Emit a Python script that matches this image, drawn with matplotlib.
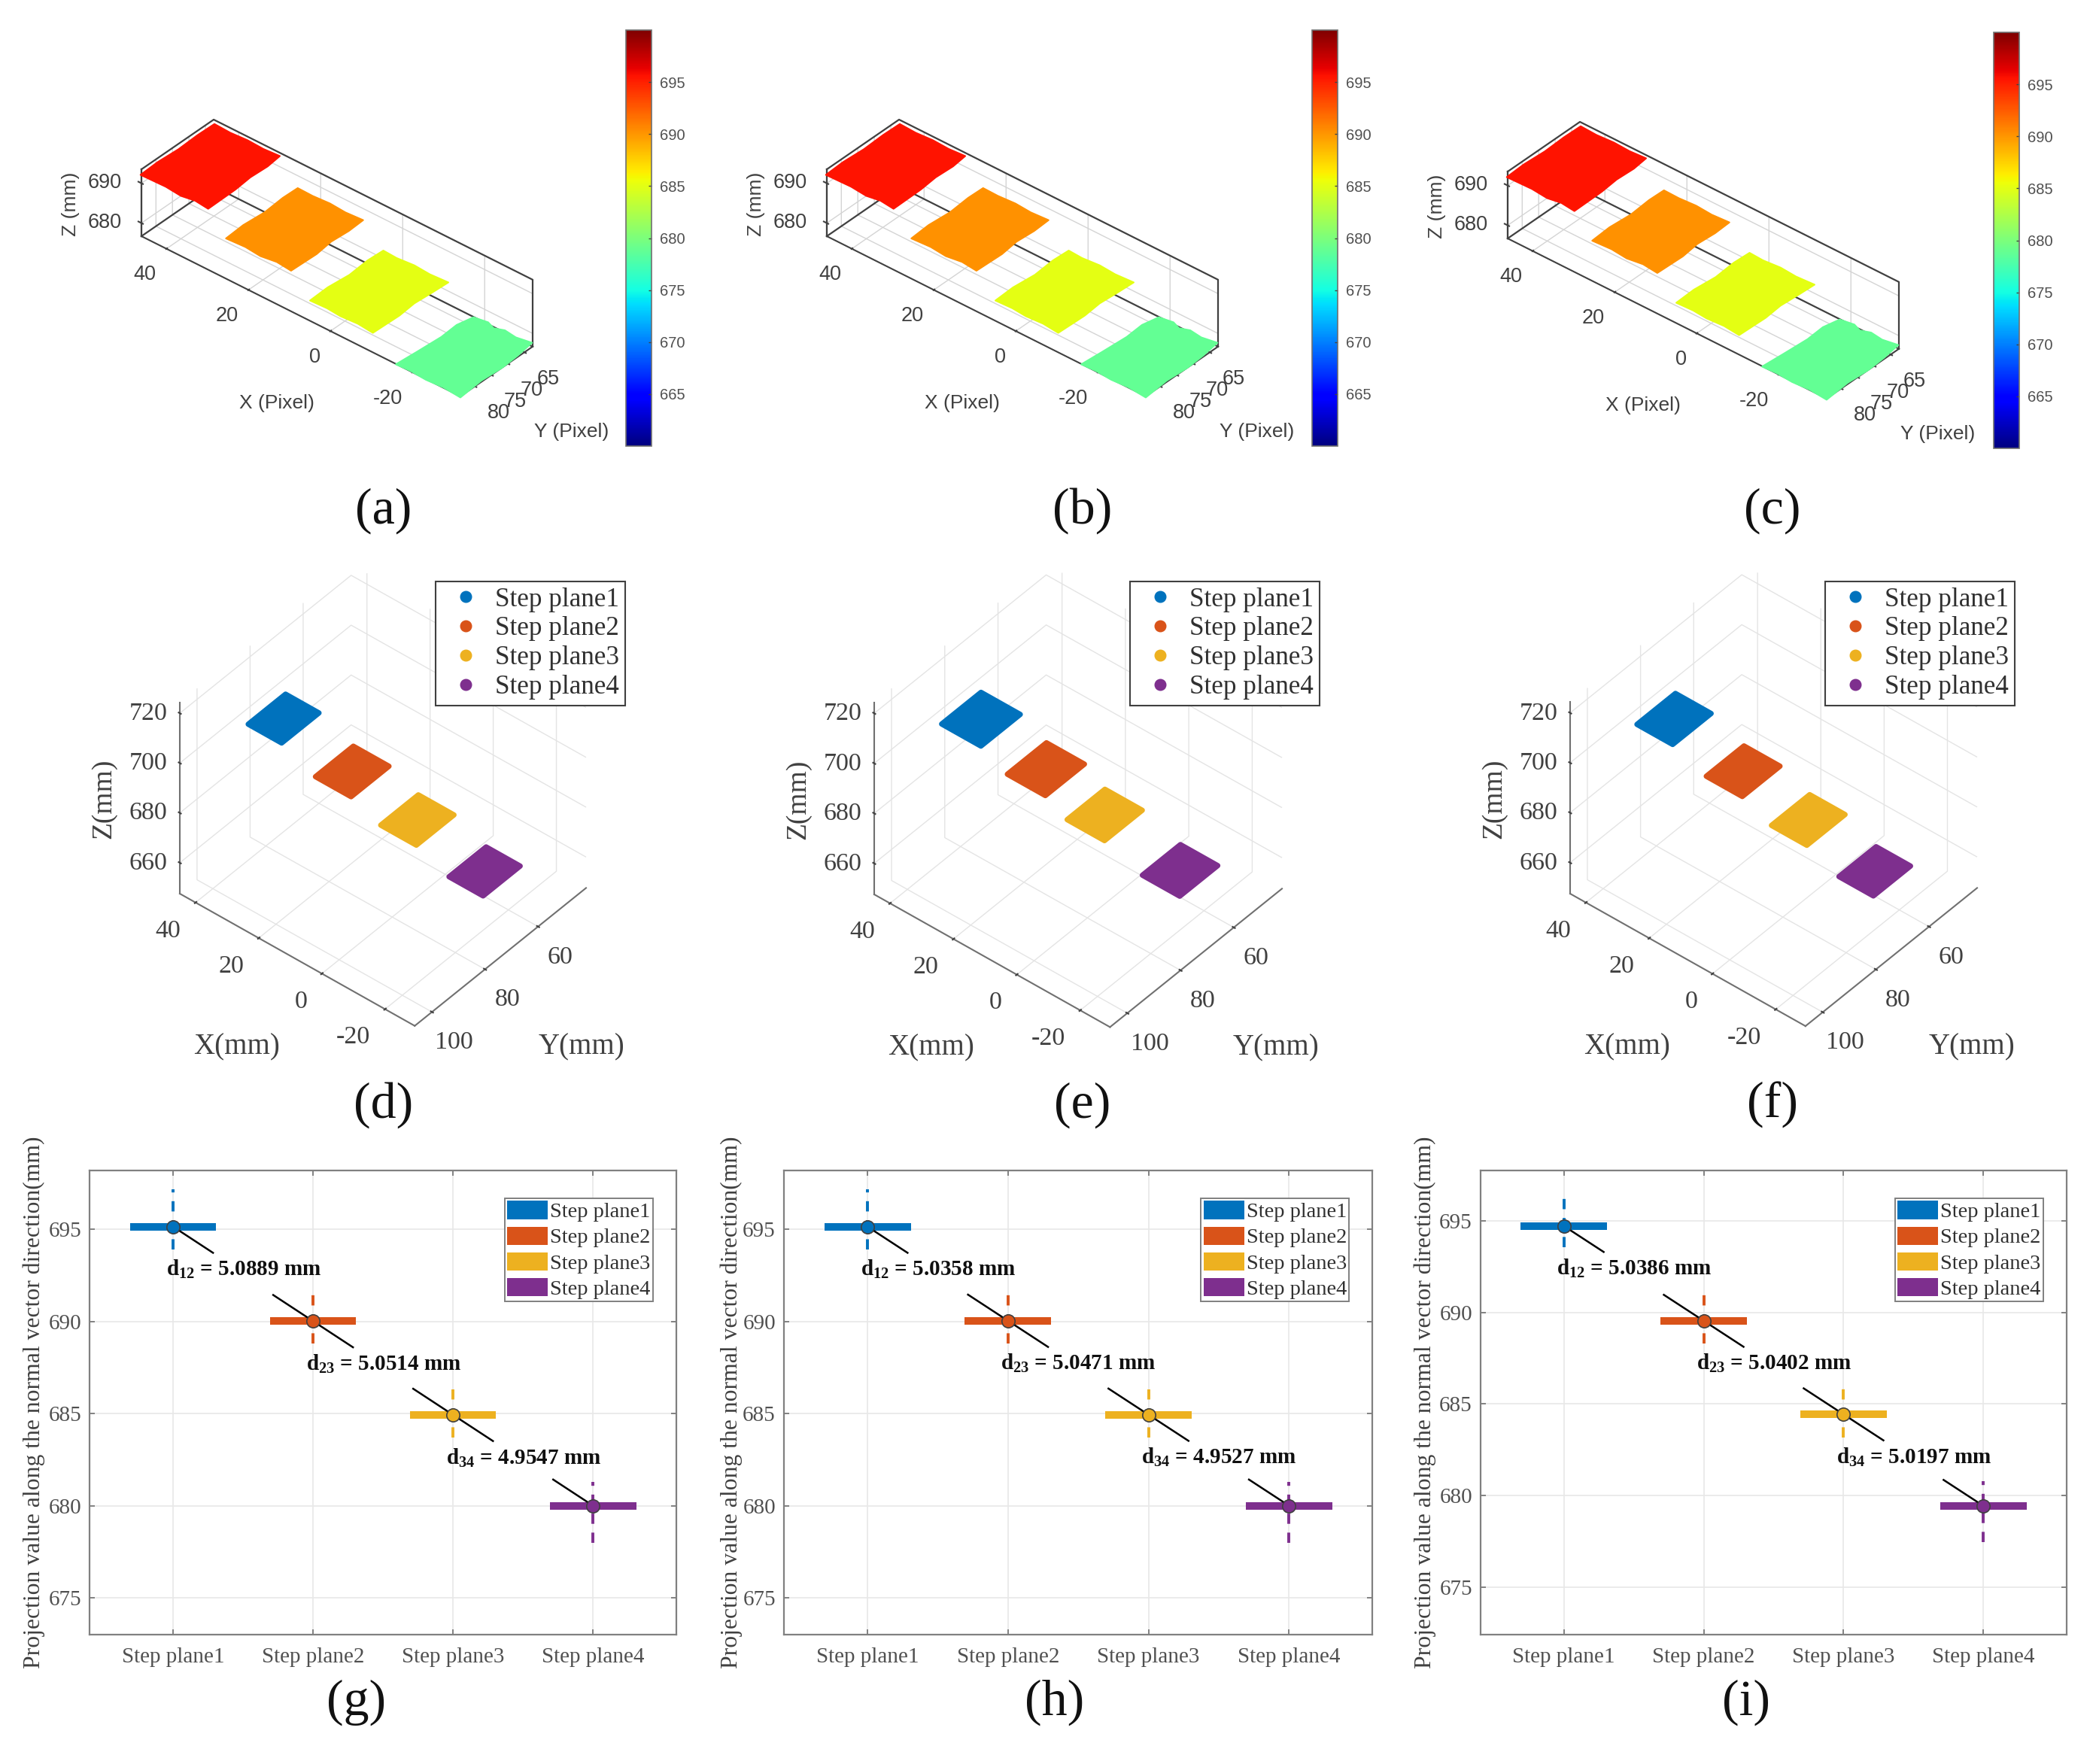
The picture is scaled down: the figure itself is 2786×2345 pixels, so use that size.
import numpy as np
import matplotlib
matplotlib.use('Agg')
import matplotlib.pyplot as plt
from matplotlib.cm import ScalarMappable
from matplotlib.colors import Normalize
from matplotlib.lines import Line2D
from matplotlib.patches import Patch
from mpl_toolkits.mplot3d.art3d import Poly3DCollection

W, H = 2786, 2345

plt.rcParams['font.family'] = 'Liberation Serif'
plt.rcParams['axes.unicode_minus'] = False
plt.rcParams['mathtext.fontset'] = 'custom'
plt.rcParams['mathtext.rm'] = 'Liberation Serif'
plt.rcParams['mathtext.bf'] = 'Liberation Serif:bold'

plane_names = ['Step plane1', 'Step plane2', 'Step plane3', 'Step plane4']
plane_colors = ['#0072BD', '#D95319', '#EDB120', '#7E2F8E']
plane_z = [695, 690, 685, 680]

# top row: colour value, outlines
colour_z = [695.6, 690.2, 685.0, 678.8]
outline1_x = [44, 40, 36, 32, 28.2, 27.8, 28.0, 27.6, 27.5, 31, 34, 38, 44, 44.2, 43.9, 44.1]
outline1_y = [65, 65.2, 64.9, 65.1, 64.8, 69, 74, 79, 87.4, 87.0, 87.6, 87.2, 87.4, 82, 76, 70]
outline2_x = [23.2, 19.5, 15.5, 11.5, 7.4, 7.2, 7.5, 7.0, 7.2, 11, 14.5, 18.5, 23, 23.3, 22.9, 23.3]
outline2_y = [65.6, 65.7, 65.4, 65.7, 65.4, 70, 75, 80, 87.5, 87.1, 87.7, 87.3, 87.6, 82, 76, 70]
outline3_x = [2.4, -1, -5, -9, -13.3, -13.1, -12.8, -13.2, -13, -9, -5, -1.5, 2.5, 2.7, 2.2, 2.6]
outline3_y = [65.5, 65.7, 65.3, 65.6, 65.3, 70, 75, 80, 87.8, 87.4, 87.7, 87.4, 87.6, 82, 76, 70]
outline4_x = [-19.9, -23, -25, -27, -30, -33.4, -34, -34.3, -34, -34.5, -30, -26, -22, -18.6, -19, -19.4, -19.1]
outline4_y = [65.9, 65.3, 66.1, 65.2, 65.6, 64.9, 70, 75, 81, 88.0, 87.6, 87.9, 87.6, 87.8, 82, 75, 70]

top_xlim = (-31.7, 46.1)
top_ylim = (62.5, 84.4)
top_zlim = (676.7, 693.5)
top_xticks = [-20, 0, 20, 40]
top_yticks = [65, 70, 75, 80]
top_zticks = [680, 690]
cbar_ticks = [665, 670, 675, 680, 685, 690, 695]

# middle row: x, y extents of each plane per panel
mid_xlim = (-29.4, 45)
mid_ylim = (41.9, 106.5)
mid_zlim = (647.6, 724.4)
mid_xticks = [-20, 0, 20, 40]
mid_yticks = [60, 80, 100]
mid_zticks = [660, 680, 700, 720]
d_x_lo = [33, 10.5, -10, -31.3]
d_x_hi = [45, 23.2, 2.7, -19.1]
d_y_lo = [66.9, 67.3, 67.2, 67.6]
d_y_hi = [82.4, 83, 82.8, 83]
e_x_lo = [31.5, 11, -7.5, -31.4]
e_x_hi = [45.3, 24.4, 5.7, -18.2]
e_y_lo = [66.3, 66.6, 66.9, 67]
e_y_hi = [82.5, 82.7, 82.5, 82.7]
f_x_lo = [32.5, 10.4, -10, -31.2]
f_x_hi = [45.2, 23.2, 2.6, -18.9]
f_y_lo = [66.9, 67.3, 67.1, 67.7]
f_y_hi = [82.8, 82.9, 82.9, 83.1]

# bottom row
bot_ticks = [675, 680, 685, 690, 695]
g_med = [695.15, 690.02, 684.93, 680.0]
g_high = [697.17, 691.47, 686.3, 681.3]
g_low = [693.9, 688.8, 683.7, 678.0]
g_dist = ['5.0889', '5.0514', '4.9547']
h_med = [695.15, 690.04, 684.94, 680.0]
h_high = [697.17, 691.47, 686.3, 681.3]
h_low = [693.9, 688.8, 683.7, 678.0]
h_dist = ['5.0358', '5.0471', '4.9527']
i_med = [694.72, 689.54, 684.43, 679.43]
i_high = [696.26, 690.98, 685.83, 680.78]
i_low = [693.54, 688.3, 683.17, 677.44]
i_dist = ['5.0386', '5.0402', '5.0197']


def fx(px):
    return px / W


def fy(py):
    return 1 - py / H


def place_3d(aspect, elev, azim, xlim, ylim, zlim, left_pt, right_x):
    # fit an ortho 3d box so its floor corner lands on the wanted pixel
    side = 1400.
    ax = fig.add_axes([0.1, 0.1, side / W, side / H], projection='3d', proj_type='ortho')
    ax.set_xlim(xlim)
    ax.set_ylim(ylim)
    ax.set_zlim(zlim)
    ax.set_box_aspect(aspect)
    ax.view_init(elev=elev, azim=azim)
    ax.patch.set_alpha(0)
    ax.computed_zorder = False
    ax.apply_aspect()
    M = ax.get_proj()
    pts = np.array([[xlim[1], ylim[1], zlim[0], 1.], [xlim[0], ylim[0], zlim[0], 1.]]).T
    q = M @ pts
    q = (q[:2] / q[3]).T
    fr = ax.transAxes.inverted().transform(ax.transData.transform(q))
    new_side = (right_x - left_pt[0]) / (fr[1, 0] - fr[0, 0])
    l = left_pt[0] - new_side * fr[0, 0]
    b = (H - left_pt[1]) - new_side * fr[0, 1]
    ax.set_position([l / W, b / H, new_side / W, new_side / H])
    return ax


def style_3d(ax, gridc, linec, lw, tick_in, tick_out):
    for axis in (ax.xaxis, ax.yaxis, ax.zaxis):
        axis.set_pane_color((1, 1, 1, 0))
        axis.pane.set_edgecolor(gridc)
        axis.pane.set_linewidth(1.0)
        axis._axinfo['grid'].update(color=gridc, linewidth=1.0)
        axis._axinfo['tick'].update(inward_factor=tick_in, outward_factor=tick_out, linewidth={True: lw, False: lw})
        axis._axinfo['tick']['color'] = linec
        axis.line.set_color(linec)
        axis.line.set_linewidth(lw)
    # move the z axis over to the left hand corner
    ax.zaxis._axinfo['juggled'] = (1, 2, 0)


def top_panel(dx, dy, cbar_x0):
    ax = place_3d((558, 148, 110), 36, 130.5, top_xlim, top_ylim, top_zlim,
                  (188 + dx, 314 + dy), 708 + dx)
    style_3d(ax, '#d4d4d4', '#404040', 1.5, 0.06, 0.12)
    ax.set_xticks(top_xticks)
    ax.set_yticks(top_yticks)
    ax.set_zticks(top_zticks)
    ax.tick_params(axis='x', labelsize=19.5, colors='#404040', pad=22, labelfontfamily='Liberation Sans')
    ax.tick_params(axis='y', labelsize=19.5, colors='#404040', pad=8, labelfontfamily='Liberation Sans')
    ax.tick_params(axis='z', labelsize=19.5, colors='#404040', pad=12, labelfontfamily='Liberation Sans')
    for tick in ax.xaxis.get_major_ticks():
        tick.label1.set_ha('right')
    xa, xb = top_xlim
    ya, yb = top_ylim
    za, zb = top_zlim
    # matlab style box round the data
    ax.plot([xb, xb, xa, xa], [yb, ya, ya, ya], [zb, zb, zb, za], color='#404040', lw=1.6, zorder=1)
    ax.plot([xb, xb, xa], [yb, ya, ya], [za, za, za], color='#404040', lw=1.6, zorder=1)
    ax.plot([xb, xb], [yb, yb], [za, zb], color='#404040', lw=1.6, zorder=1)
    norm = Normalize(660, 700)
    cmap = plt.get_cmap('jet')
    outlines = [(outline1_x, outline1_y), (outline2_x, outline2_y),
                (outline3_x, outline3_y), (outline4_x, outline4_y)]
    for k, (ox, oy) in enumerate(outlines):
        verts = [list(zip(ox, oy, [plane_z[k]] * len(ox)))]
        col = cmap(norm(colour_z[k]))
        ax.add_collection3d(Poly3DCollection(verts, facecolor=col, edgecolor=col, linewidth=1.5,
                                             zorder=3 + k), autolim=False)
    fig.text(fx(368 + dx), fy(536 + dy), 'X (Pixel)', family='Liberation Sans', fontsize=19,
             color='#404040', ha='center', va='center')
    fig.text(fx(760 + dx), fy(574 + dy), 'Y (Pixel)', family='Liberation Sans', fontsize=19,
             color='#404040', ha='center', va='center')
    fig.text(fx(94 + dx), fy(271 + dy), 'Z (mm)', family='Liberation Sans', fontsize=19,
             color='#404040', ha='center', va='center', rotation=90)
    cax = fig.add_axes([fx(cbar_x0), fy(593 + dy), 34 / W, 553 / H])
    cb = fig.colorbar(ScalarMappable(norm=norm, cmap=cmap), cax=cax)
    cb.set_ticks(cbar_ticks)
    cb.ax.tick_params(labelsize=14.5, labelcolor='#505050', color='#404040', direction='in',
                      length=3, width=1, pad=8)
    for lab in cb.ax.get_yticklabels():
        lab.set_family('Liberation Sans')
    cb.outline.set_edgecolor('#707070')
    cb.outline.set_linewidth(1.2)


def mid_panel(z_left, floor_y, right_x, xlo, xhi, ylo, yhi, legend_x):
    ax = place_3d((407, 355, 344), 42.3, 129.9, mid_xlim, mid_ylim, mid_zlim,
                  (z_left, floor_y), right_x)
    style_3d(ax, '#e4e4e4', '#707070', 1.5, 0.06, 0.06)
    ax.set_xticks(mid_xticks)
    ax.set_yticks(mid_yticks)
    ax.set_zticks(mid_zticks)
    ax.tick_params(axis='x', labelsize=24.5, colors='#404040', pad=12)
    ax.tick_params(axis='y', labelsize=24.5, colors='#404040', pad=14)
    ax.tick_params(axis='z', labelsize=24.5, colors='#404040', pad=10)
    for tick in ax.xaxis.get_major_ticks():
        tick.label1.set_ha('right')
        tick.label1.set_va('center')
    for tick in ax.yaxis.get_major_ticks():
        tick.label1.set_va('center')
    for tick in ax.zaxis.get_major_ticks():
        tick.label1.set_va('center')
    inset = 0.7
    for k in range(4):
        x0, x1 = xlo[k] + inset, xhi[k] - inset
        y0, y1 = ylo[k] + inset, yhi[k] - inset
        verts = [[(x1, y0, plane_z[k]), (x0, y0, plane_z[k]), (x0, y1, plane_z[k]), (x1, y1, plane_z[k])]]
        poly = Poly3DCollection(verts, facecolor=plane_colors[k], edgecolor=plane_colors[k],
                                linewidth=5, zorder=3 + k)
        poly.set_joinstyle('round')
        ax.add_collection3d(poly, autolim=False)
    handles = [Line2D([], [], ls='none', marker='o', ms=10.5, color=c) for c in plane_colors]
    fig.legend(handles, plane_names, loc='upper left', bbox_to_anchor=(fx(legend_x), fy(773)),
               fontsize=25.2, fancybox=False, framealpha=1, edgecolor='#404040',
               borderaxespad=0, borderpad=0.22, labelspacing=0.165, handletextpad=0.2,
               handlelength=1.85, labelcolor='#303030').get_frame().set_linewidth(1.5)
    fig.text(fx(z_left + 76), fy(floor_y + 204), 'X(mm)', fontsize=28, color='#404040', ha='center', va='center')
    fig.text(fx(z_left + 534), fy(floor_y + 204), 'Y(mm)', fontsize=28, color='#404040', ha='center', va='center')
    fig.text(fx(z_left - 101), fy(floor_y - 126), 'Z(mm)', fontsize=27, color='#404040',
             ha='center', va='center', rotation=90)


def bot_panel(left, right, ylim, med, high, low, dist, ylabel_x):
    ax = fig.add_axes([fx(left), fy(2173), (right - left) / W, (2173 - 1556) / H])
    xs = np.arange(1, 5)
    ax.set_xlim(0.405, 4.595)
    ax.set_ylim(ylim)
    ax.grid(True, color='#e8e8e8', lw=1.2)
    ax.set_axisbelow(True)
    ax.set_xticks(xs)
    ax.set_xticklabels(plane_names)
    ax.set_yticks(bot_ticks)
    ax.tick_params(direction='in', top=True, right=True, length=5, width=1.2, color='#707070',
                   labelcolor='#505050', labelsize=21)
    ax.tick_params(axis='x', pad=12)
    ax.tick_params(axis='y', pad=8)
    for s in ax.spines.values():
        s.set_color('#808080')
        s.set_linewidth(1.6)
    for k in range(4):
        ax.vlines(xs[k], low[k], high[k], color=plane_colors[k], lw=2.8, ls=(0, (3.5, 3)), zorder=2)
        ax.bar(xs[k], 0.4, bottom=med[k] - 0.2, width=0.615, color=plane_colors[k], zorder=3)
        if k < 3:
            ax.plot([xs[k], xs[k] + 0.285], [med[k], med[k] - 1.42], color='black', lw=1.8, zorder=4)
        if k > 0:
            ax.plot([xs[k] - 0.285, xs[k]], [med[k] + 1.42, med[k]], color='black', lw=1.8, zorder=4)
        ax.plot(xs[k], med[k], 'o', ms=12.5, mfc=plane_colors[k], mec='#404040', mew=1.2, zorder=5)
    for k in range(3):
        ax.text(xs[k] - 0.05, med[k] - 2.33,
                r'$\mathbf{d_{%d%d}}$ = %s mm' % (k + 1, k + 2, dist[k]),
                fontsize=21, fontweight='bold', color='#101010', va='center', zorder=6)
    handles = [Patch(facecolor=c, edgecolor='none') for c in plane_colors]
    ax.legend(handles, plane_names, loc='upper right', bbox_to_anchor=(1 - 31 / (right - left), 1 - 37 / 617),
              fontsize=20.5, fancybox=False, framealpha=1, edgecolor='#808080', borderaxespad=0,
              borderpad=0.12, labelspacing=0.22, handletextpad=0.1, handlelength=1.9, handleheight=0.93,
              labelcolor='#303030').get_frame().set_linewidth(1.4)
    fig.text(fx(ylabel_x), fy(1864), 'Projection value along the normal vector direction(mm)',
             fontsize=22.8, color='#404040', rotation=90, ha='center', va='center')


fig = plt.figure(figsize=(W / 100, H / 100), dpi=100, facecolor='white')

top_panel(0, 0, 832)
top_panel(911, 0, 1744)
top_panel(1816, 3, 2650)

mid_panel(239, 1188, 779, d_x_lo, d_x_hi, d_y_lo, d_y_hi, 579)
mid_panel(1162, 1189, 1704, e_x_lo, e_x_hi, e_y_lo, e_y_hi, 1502)
mid_panel(2087, 1188, 2628, f_x_lo, f_x_hi, f_y_lo, f_y_hi, 2426)

bot_panel(119.4, 899, (673, 698.2), g_med, g_high, g_low, g_dist, 45)
bot_panel(1042, 1824.4, (673, 698.2), h_med, h_high, h_low, h_dist, 972)
bot_panel(1968, 2747, (672.4, 697.75), i_med, i_high, i_low, i_dist, 1894)

captions = ['(a)', '(b)', '(c)', '(d)', '(e)', '(f)', '(g)', '(h)', '(i)']
cap_x = [510, 1439, 2356, 510, 1439, 2356, 474, 1402, 2321]
cap_y = [679, 679, 679, 1469, 1469, 1469, 2263, 2263, 2263]
for t, cx, cy in zip(captions, cap_x, cap_y):
    fig.text(fx(cx), fy(cy), t, fontsize=49, color='#111111', ha='center', va='center')

fig.savefig('out.png', dpi=100)
